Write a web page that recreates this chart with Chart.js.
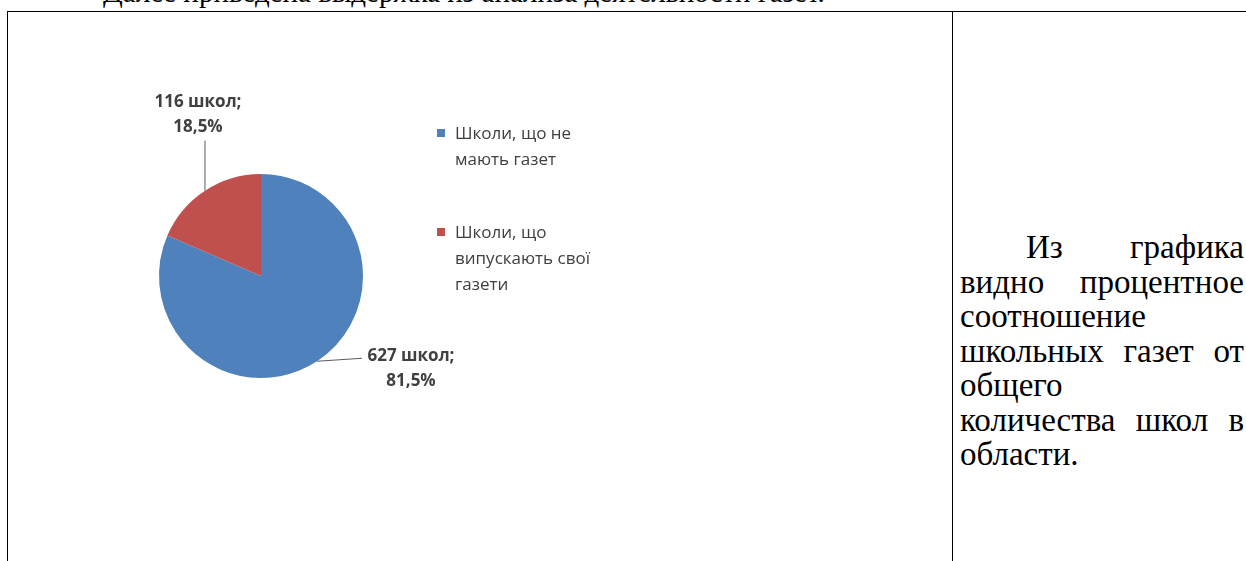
<!DOCTYPE html>
<html lang="ru">
<head>
    <meta charset="UTF-8">
    <title>Школьные газеты</title>
    <style>
        body {
            margin: 0;
            width: 1246px;
            height: 561px;
            overflow: hidden;
            position: relative;
            background: #fff;
            font-family: "Liberation Serif", "Times New Roman", serif;
            color: #000;
        }

        .lead {
            position: absolute;
            left: 103px;
            top: -24px;
            font-size: 29px;
            white-space: nowrap;
        }

        .rule-top {
            position: absolute;
            left: 7px;
            top: 11px;
            width: 1239px;
            border-top: 1px solid #000;
        }

        .rule-left, .rule-mid {
            position: absolute;
            top: 11px;
            height: 550px;
            border-left: 1px solid #000;
        }

        .rule-left { left: 7px; }
        .rule-mid { left: 952px; }

        .chart-box {
            position: absolute;
            left: 8px;
            top: 12px;
            width: 944px;
            height: 549px;
        }

        .note {
            position: absolute;
            left: 960px;
            top: 230px;
            width: 284px;
            font-size: 33px;
            line-height: 34.5px;
        }

        .note span {
            display: block;
            white-space: nowrap;
        }

        .note .j {
            text-align: justify;
            text-align-last: justify;
        }

        .note .first {
            padding-left: 66px;
        }
    </style>
</head>
<body>
    <div class="lead">Далее приведена выдержка из анализа деятельности газет.</div>
    <div class="rule-top"></div>
    <div class="rule-left"></div>
    <div class="rule-mid"></div>

    <div class="chart-box">
        <canvas id="schoolsChart"></canvas>
    </div>

    <div class="note">
        <span class="j first">Из графика</span>
        <span class="j">видно процентное</span>
        <span>соотношение</span>
        <span class="j">школьных газет от</span>
        <span>общего</span>
        <span class="j">количества школ в</span>
        <span>области.</span>
    </div>

    <script src="https://cdn.jsdelivr.net/npm/chart.js"></script>
    <script>
        const categories = ['Школи, що не мають газет', 'Школи, що випускають свої газети'];
        const shares = [81.5, 18.5];
        const schools = [627, 116];
        const sliceColors = ['#4F81BD', '#C0504D'];

        // leader line end (lx, ly) and label block centre / first baseline (tx, ty), relative to the slice's outer midpoint
        const leaderOffsets = [
            { lx: 45, ly: -3, tx: 94, ty: 0 },
            { lx: 0, ly: -50, tx: -7, ty: -84 }
        ];

        const pieLabels = {
            id: 'pieLabels',
            afterDatasetsDraw(chart) {
                const ctx = chart.ctx;
                const meta = chart.getDatasetMeta(0);
                ctx.save();
                meta.data.forEach((arc, i) => {
                    const p = arc.getProps(['x', 'y', 'startAngle', 'endAngle', 'outerRadius'], true);
                    const mid = (p.startAngle + p.endAngle) / 2;
                    const ax = p.x + Math.cos(mid) * p.outerRadius;
                    const ay = p.y + Math.sin(mid) * p.outerRadius;
                    const o = leaderOffsets[i];

                    ctx.strokeStyle = '#5a5a5a';
                    ctx.lineWidth = 1;
                    ctx.beginPath();
                    ctx.moveTo(ax, ay);
                    ctx.lineTo(ax + o.lx, ay + o.ly);
                    ctx.stroke();

                    const pct = chart.data.datasets[0].data[i].toFixed(1).replace('.', ',') + '%';
                    ctx.font = 'bold 17px "Open Sans"';
                    ctx.fillStyle = '#404040';
                    ctx.textAlign = 'center';
                    ctx.textBaseline = 'alphabetic';
                    ctx.fillText(schools[i] + ' школ;', ax + o.tx, ay + o.ty);
                    ctx.fillText(pct, ax + o.tx, ay + o.ty + 25);
                });
                ctx.restore();
            },
            afterDraw(chart) {
                // legend on the right, wrapped like the Office original
                const ctx = chart.ctx;
                const x0 = 429;
                let y = 127;
                ctx.save();
                ctx.font = '17px "Open Sans"';
                ctx.textAlign = 'left';
                ctx.textBaseline = 'alphabetic';
                chart.data.labels.forEach((label, i) => {
                    const words = label.split(' ');
                    const lines = [];
                    let line = '';
                    words.forEach(w => {
                        const test = line ? line + ' ' + w : w;
                        if (ctx.measureText(test).width > 150 && line) {
                            lines.push(line);
                            line = w;
                        } else {
                            line = test;
                        }
                    });
                    lines.push(line);

                    ctx.fillStyle = sliceColors[i];
                    ctx.fillRect(x0, y - 10, 8, 8);
                    ctx.fillStyle = '#404040';
                    lines.forEach((l, k) => ctx.fillText(l, x0 + 18, y + k * 26));
                    y += 99;
                });
                ctx.restore();
            }
        };

        new Chart(document.getElementById('schoolsChart'), {
            type: 'pie',
            data: {
                labels: categories,
                datasets: [{
                    data: shares,
                    backgroundColor: sliceColors,
                    borderWidth: 0
                }]
            },
            options: {
                responsive: true,
                maintainAspectRatio: false,
                animation: false,
                layout: {
                    padding: { left: 151, top: 162, right: 589, bottom: 183 }
                },
                plugins: {
                    legend: { display: false },
                    tooltip: { enabled: false }
                }
            },
            plugins: [pieLabels]
        });
    </script>
</body>
</html>
